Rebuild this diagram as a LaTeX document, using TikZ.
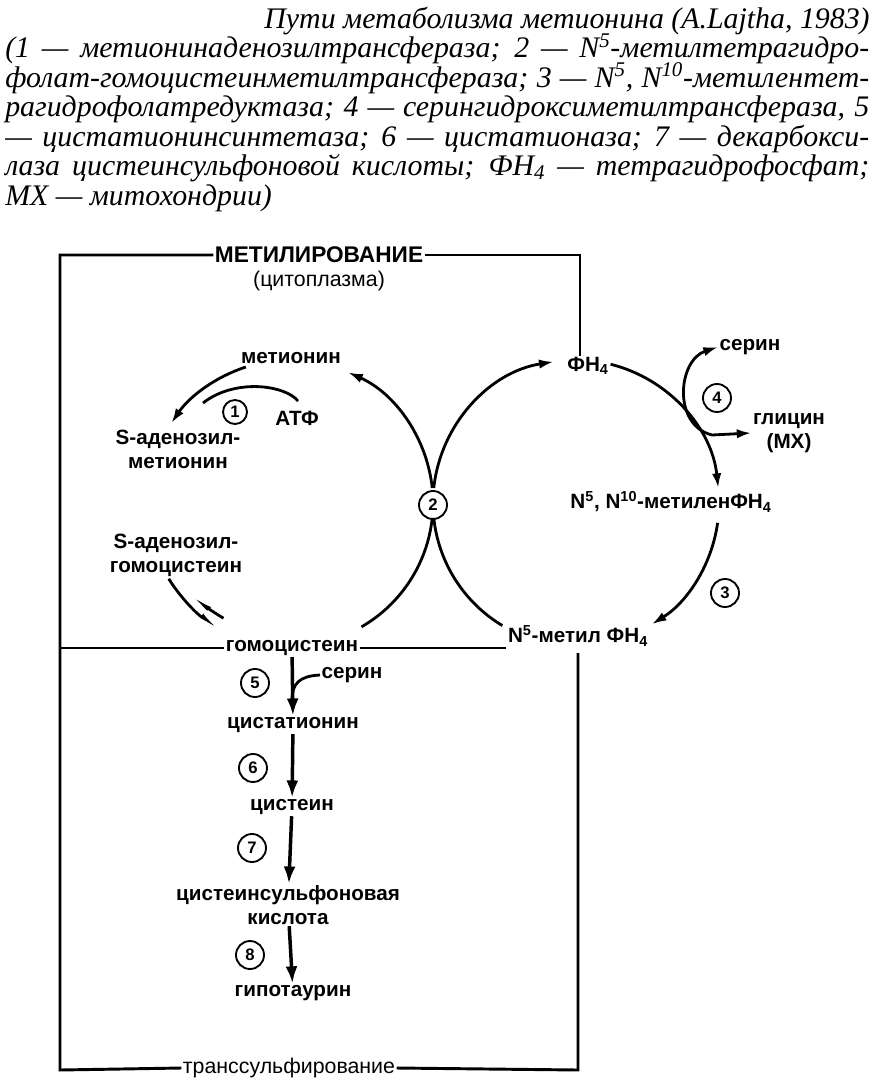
\documentclass[tikz,border=0pt]{standalone}
\usepackage{fontspec}
\setmainfont{Liberation Sans}
\newfontfamily\capfont{Liberation Serif}
\usetikzlibrary{arrows.meta}

\begin{document}
\begin{tikzpicture}[
  x=0.75pt, y=0.75pt,
  lbl/.style={font=\fontsize{15.5}{18}\selectfont\bfseries, inner sep=1pt, align=center},
  thin lbl/.style={font=\fontsize{16}{18}\selectfont, inner sep=1pt, align=center},
  enz/.style={draw, circle, line width=1.4pt, inner sep=0pt, minimum size=21pt, font=\fontsize{12.5}{12.5}\selectfont\bfseries},
  captext/.style={font=\capfont\itshape\fontsize{22.4}{22}\selectfont, inner sep=0pt},
  ring/.style={line width=2.1pt},
  border/.style={line width=2.2pt},
  arr/.style={-{Latex[length=11pt,width=7pt]}},
  flow/.style={line width=2.6pt, -{Latex[length=13pt,width=9pt]}},
  fwd/.style={-{Latex[harpoon,length=10pt,width=6pt]}},
  back/.style={-{Latex[harpoon,swap,length=10pt,width=6pt]}}
]
\useasboundingbox (0,0) rectangle (877,-1092);

\node[captext, anchor=base east] (c1) at (870,-28) {Пути метаболизма метионина (A.Lajtha, 1983)};
\node[captext, anchor=base west] (c2) at (5,-57.5) {\makebox[648pt][s]{(1 — метионинаденозилтрансфераза; 2 — N\textsuperscript{5}-метилтетрагидро-}};
\node[captext, anchor=base west] (c3) at (5,-87) {\makebox[648pt][s]{фолат-гомоцистеинметилтрансфераза; 3 — N\textsuperscript{5}, N\textsuperscript{10}-метилентет-}};
\node[captext, anchor=base west] (c4) at (5,-116.5) {\makebox[648pt][s]{рагидрофолатредуктаза; 4 — серингидроксиметилтрансфераза, 5}};
\node[captext, anchor=base west] (c5) at (5,-146) {\makebox[648pt][s]{— цистатионинсинтетаза; 6 — цистатионаза; 7 — декарбокси-}};
\node[captext, anchor=base west] (c6) at (5,-175.5) {\makebox[648pt][s]{лаза цистеинсульфоновой кислоты; ФН\textsubscript{4} — тетрагидрофосфат;}};
\node[captext, anchor=base west] (c7) at (5,-205) {МХ — митохондрии)};

\coordinate (L) at (290,-503);
\coordinate (R) at (576,-503);

\node[lbl, font=\fontsize{17}{20}\selectfont\bfseries] (meth) at (319,-255) {МЕТИЛИРОВАНИЕ};
\node[thin lbl] (cyto) at (319,-281) {(цитоплазма)};
\node[thin lbl] (trans) at (289,-1068) {транссульфирование};

\node[lbl] (met) at (291,-358) {метионин};
\node[lbl] (sam) at (178,-449) {S-аденозил-\\метионин};
\node[lbl] (sah) at (176,-555) {S-аденозил-\\гомоцистеин};
\node[lbl] (hcy) at (292,-648) {гомоцистеин};
\node[lbl] (atp) at (297,-418) {АТФ};
\node[enz, minimum size=18pt] (e1) at (235,-412) {1};
\node[enz, fill=white] (e2) at (433,-505) {2};

\node[lbl] (thf) at (588,-366) {ФН\textsubscript{4}};
\node[lbl] (mthf) at (671,-502) {N\textsuperscript{5}, N\textsuperscript{10}-метиленФН\textsubscript{4}};
\node[lbl] (mtf) at (578,-636) {N\textsuperscript{5}-метил ФН\textsubscript{4}};
\node[lbl] (ser1) at (750,-347) {серин};
\node[lbl] (gly) at (789,-433) {глицин\\(МХ)};
\node[enz] (e4) at (717,-398) {4};
\node[enz] (e3) at (725,-593) {3};

\node[lbl] (cth) at (293,-725) {цистатионин};
\node[lbl] (cys) at (292,-807) {цистеин};
\node[lbl] (csa) at (288,-905) {цистеинсульфоновая\\кислота};
\node[lbl] (hyp) at (293,-993) {гипотаурин};
\node[lbl] (ser2) at (352,-675) {серин};
\node[enz] (e5) at (255,-683) {5};
\node[enz] (e6) at (253,-768) {6};
\node[enz] (e7) at (252,-848) {7};
\node[enz] (e8) at (250,-955) {8};

\coordinate (tl) at (60,-255);
\coordinate (tr) at (580,-255);
\coordinate (ml) at (60,-648);
\coordinate (bl) at (60,-1070);
\coordinate (br) at (578,-1070);
\coordinate (mr) at (578,-653);
\coordinate (atpin) at (298,-401);
\coordinate (atpout) at (203,-403);
\coordinate (serin) at (292,-700);

\draw[border] (meth.west) -- (tl) -- (bl) -- (trans.west);
\draw[border] (meth.east) -- (tr) -- (tr |- thf.north);
\draw[border] (trans.east) -- (br) -- (mr);
\draw[border] (ml) -- (hcy.west);
\draw[border] (hcy.east) -- (mtf.west |- hcy.center);

\draw[ring, arr] (L) ++(108:143) arc[start angle=108, end angle=146, radius=143];
\draw[ring, arr] (L) ++(6:143) arc[start angle=6, end angle=66, radius=143];
\draw[ring] (L) ++(-6:143) arc[start angle=-6, end angle=-60, radius=143];
\draw[ring, fwd] (L) ++(212:143) arc[start angle=212, end angle=240, radius=143];
\draw[ring, back] (L) ++(240:133) arc[start angle=240, end angle=224, radius=133];
\draw[ring] (atpin) .. controls (285,-385) and (235,-378) .. (atpout);

\draw[ring, arr] (R) ++(174:143) arc[start angle=174, end angle=99, radius=143];
\draw[ring, arr] (R) ++(76:143) arc[start angle=76, end angle=6, radius=143];
\draw[ring, arr] (R) ++(-8:143) arc[start angle=-8, end angle=-58, radius=143];
\draw[ring] (R) ++(186:143) arc[start angle=186, end angle=239, radius=143];
\draw[ring, {Latex[length=11pt,width=7pt]}-{Latex[length=11pt,width=7pt]}] (ser1.west) .. controls (678,-360) and (672,-425) .. (712,-435) -- (gly.west);

\draw[flow] (hcy) -- (cth);
\draw[flow] (cth) -- (cys);
\draw[flow] (cys) -- (csa);
\draw[flow] (csa) -- (hyp);
\draw[ring] (ser2.west) .. controls (300,-676) and (292,-683) .. (serin);
\end{tikzpicture}
\end{document}
